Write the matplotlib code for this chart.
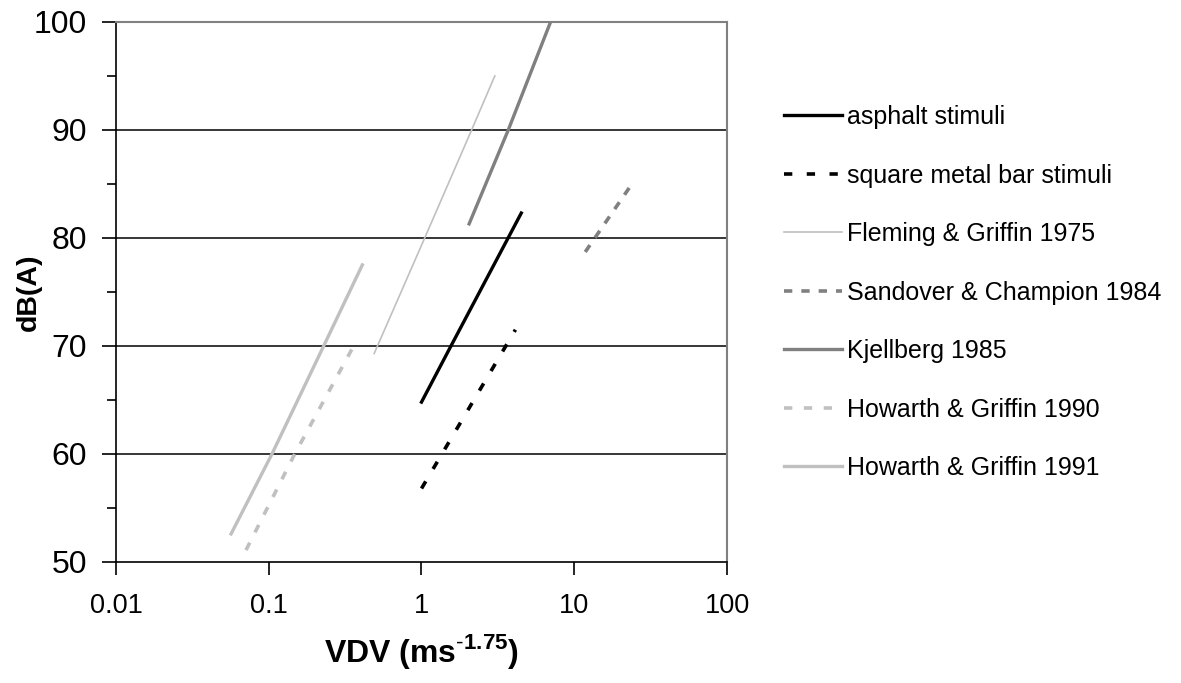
import matplotlib
matplotlib.use('Agg')
from matplotlib import pyplot as plt
from matplotlib.ticker import FixedLocator, FuncFormatter

plt.rcParams['font.family'] = ['Liberation Sans', 'DejaVu Sans']
plt.rcParams['mathtext.fontset'] = 'custom'
plt.rcParams['mathtext.rm'] = 'Liberation Sans'
plt.rcParams['mathtext.bf'] = 'Liberation Sans:bold'

# values (x = VDV, y = dB(A))
asphalt_vdv = [1.0, 1.56, 4.5]
asphalt_db = [64.8, 70.0, 82.3]

bar_vdv = [1.0, 4.12]
bar_db = [56.8, 71.5]

fleming_vdv = [0.49, 1.05, 2.13, 3.02]
fleming_db = [69.3, 80.0, 90.0, 95.0]

sandover_vdv = [11.8, 23.6]
sandover_db = [78.7, 84.9]

kjellberg_vdv = [2.05, 3.7, 7.0]
kjellberg_db = [81.3, 90.0, 100.0]

howarth90_vdv = [0.071, 0.148, 0.363]
howarth90_db = [51.1, 60.0, 70.1]

howarth91_vdv = [0.0567, 0.105, 0.229, 0.41]
howarth91_db = [52.6, 60.0, 70.0, 77.5]

x_ticks = [0.01, 0.1, 1, 10, 100]
x_tick_labels = ['0.01', '0.1', '1', '10', '100']
y_ticks = [50, 60, 70, 80, 90, 100]

fig = plt.figure(figsize=(11.81, 6.83), dpi=100)
ax = fig.add_axes([0.0982, 0.1772, 0.5174, 0.7908])

for yv in y_ticks[1:-1]:
    ax.axhline(yv, color='black', lw=1.1, zorder=1)

ax.plot(asphalt_vdv, asphalt_db, color='black', lw=2.4, label='asphalt stimuli', zorder=3)
ax.plot(bar_vdv, bar_db, color='black', lw=2.6, dashes=(2.3, 4.0), label='square metal bar stimuli', zorder=3)
ax.plot(fleming_vdv, fleming_db, color='#c0c0c0', lw=1.2, label='Fleming & Griffin 1975', zorder=3)
ax.plot(sandover_vdv, sandover_db, color='#808080', lw=2.6, dashes=(2.3, 2.5), label='Sandover & Champion 1984', zorder=3)
ax.plot(kjellberg_vdv, kjellberg_db, color='#808080', lw=2.4, label='Kjellberg 1985', zorder=3)
ax.plot(howarth90_vdv, howarth90_db, color='#c0c0c0', lw=2.6, dashes=(2.3, 3.2), label='Howarth & Griffin 1990', zorder=3)
ax.plot(howarth91_vdv, howarth91_db, color='#c0c0c0', lw=2.4, label='Howarth & Griffin 1991', zorder=3)

ax.set_xscale('log')
ax.set_xlim(0.01, 100)
ax.set_ylim(50, 100)
ax.xaxis.set_major_locator(FixedLocator(x_ticks))
ax.xaxis.set_major_formatter(FuncFormatter(lambda v, p: x_tick_labels[x_ticks.index(v)] if v in x_ticks else ''))
ax.xaxis.set_minor_locator(FixedLocator([]))
ax.set_yticks(y_ticks)
ax.yaxis.set_minor_locator(FixedLocator([55, 65, 75, 85, 95]))

ax.tick_params(axis='x', which='major', direction='out', length=9, width=1.2, labelsize=19.5, pad=13)
ax.tick_params(axis='y', which='major', direction='out', length=10, width=1.2, labelsize=23, pad=11)
ax.tick_params(axis='y', which='minor', direction='out', length=6.5, width=1.2)

ax.spines['left'].set_linewidth(1.2)
ax.spines['bottom'].set_linewidth(1.2)
ax.spines['top'].set_color('#808080')
ax.spines['right'].set_color('#808080')
ax.spines['top'].set_linewidth(1.5)
ax.spines['right'].set_linewidth(1.5)

ax.set_xlabel('VDV (ms$^{\\mathbf{\\text{-}1.75}}$)', fontsize=23, fontweight='bold', labelpad=10)
ax.set_ylabel('dB(A)', fontsize=20.5, fontweight='bold', labelpad=-6)

leg = fig.legend(loc='upper left', bbox_to_anchor=(0.664, 0.846), frameon=False,
                 fontsize=18, handlelength=2.3, handletextpad=0.22, labelspacing=1.38,
                 borderaxespad=0, borderpad=0)

fig.savefig('out.png', dpi=100)
